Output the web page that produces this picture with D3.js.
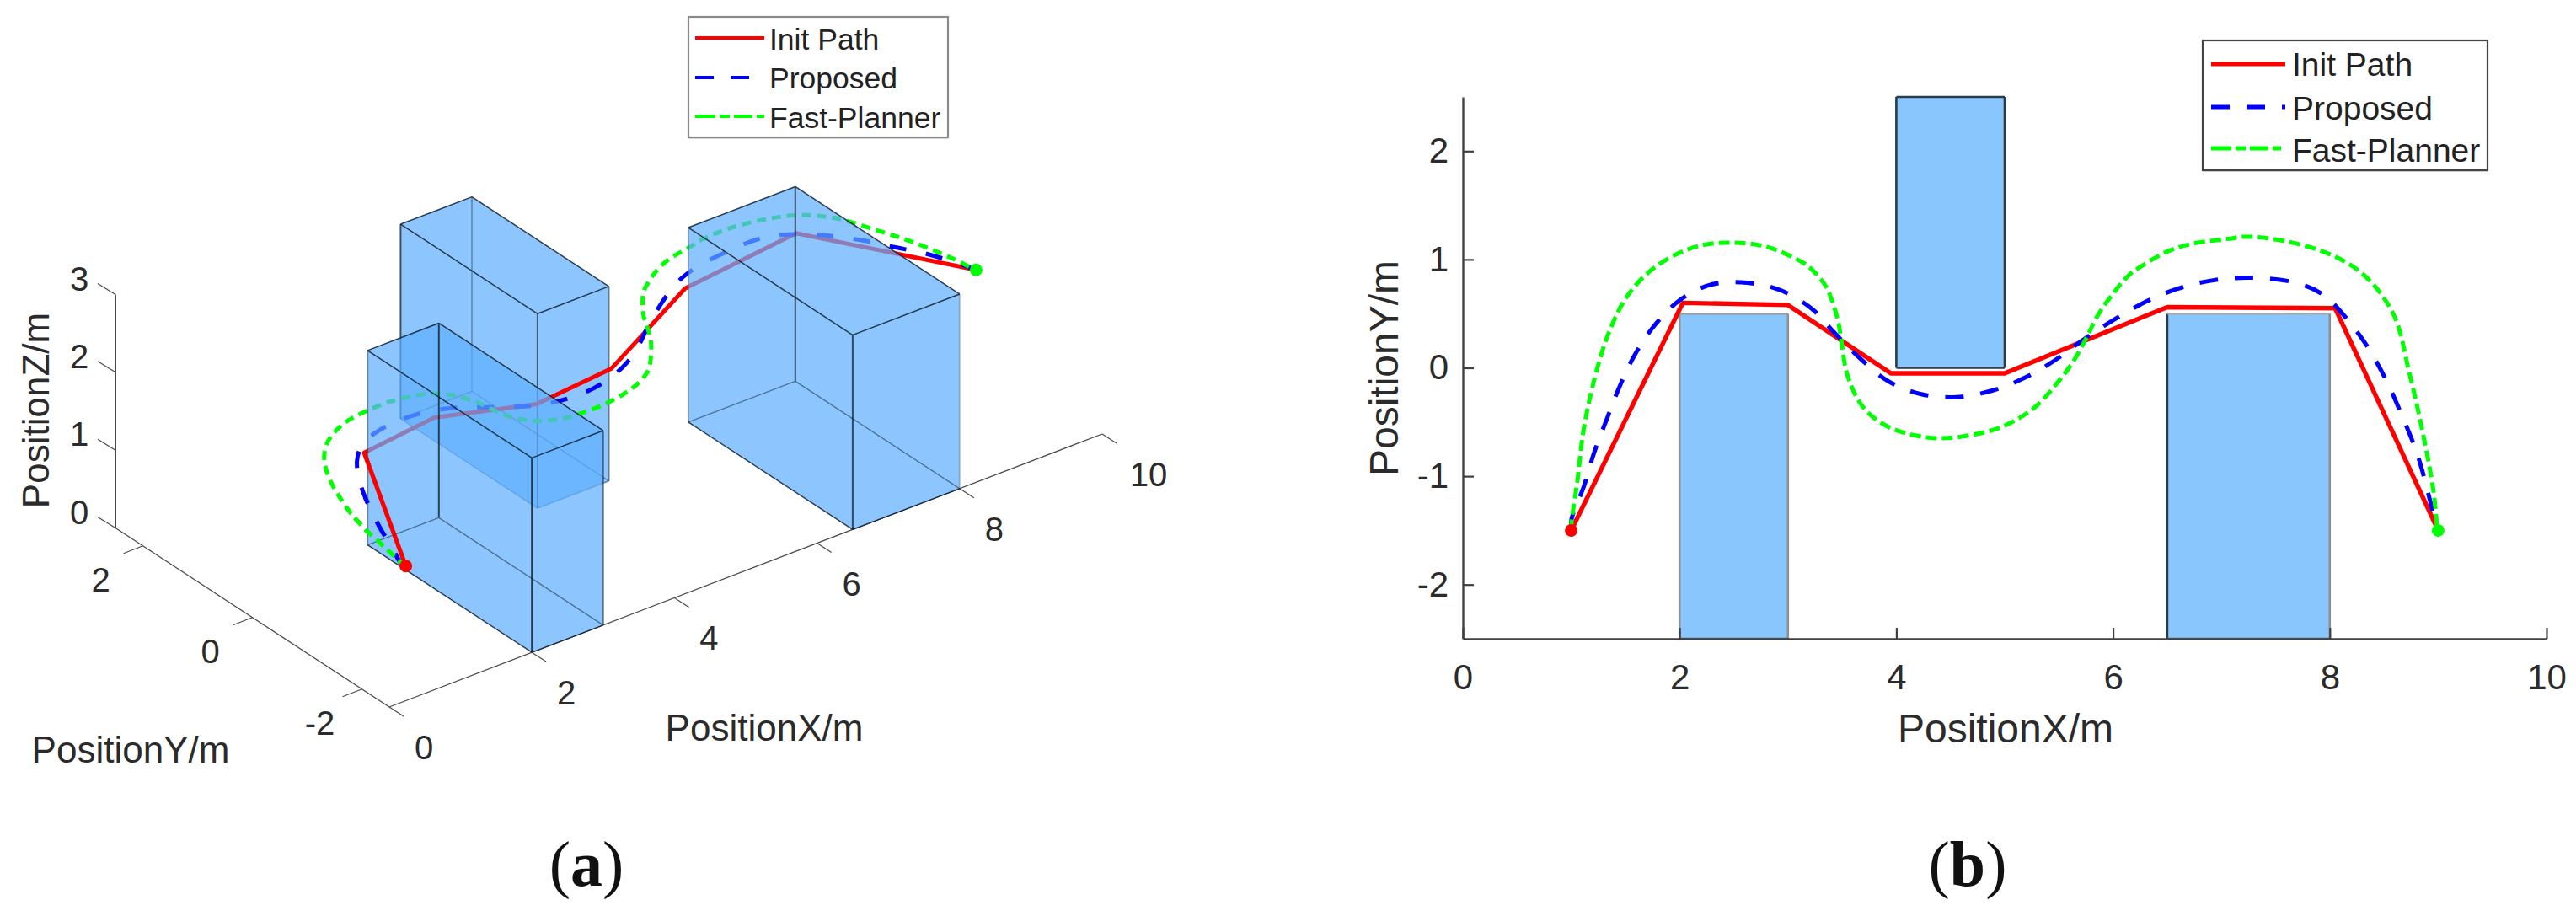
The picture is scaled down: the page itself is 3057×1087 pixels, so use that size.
<!DOCTYPE html>
<html>
<head>
<meta charset="utf-8">
<script src="https://cdn.jsdelivr.net/npm/d3@7"></script>
<style>
html,body{margin:0;padding:0;background:#fff}
svg{display:block}
text{font-family:"Liberation Sans",Arial,sans-serif;fill:#2b2b2b}
</style>
</head>
<body>
<svg id="chart" width="3057" height="1087"></svg>
<script>
// ---------- data ----------
const seriesNames = ["Init Path", "Proposed", "Fast-Planner"];
const seriesColors = ["#ff0000", "#0000ff", "#00ff00"];
const xTicks = [0, 2, 4, 6, 8, 10];
const yTicksA = [-2, 0, 2];
const yTicksB = [-2, -1, 0, 1, 2];
const zTicks = [0, 1, 2, 3];

// obstacles: [x0, x1, y0, y1, z0, z1]
const obstacleLow = [2, 3, -2.5, 0.5, 0, 2.5];
const obstacleHigh = [4, 5, 0, 2.5, 0, 2.5];
const obstacleFar = [6.5, 8, -2.5, 0.5, 0, 2.5];

const initX = [1, 2.03, 3, 3.95, 5, 6.5, 8.05, 9];
const initY = [-1.5, 0.6, 0.58, -0.05, -0.05, 0.56, 0.55, -1.5];
const initZ = [1, 1.13, 1.25, 1.38, 1.47, 1.69, 1.86, 2];

const propX = [1, 1.003, 1.12, 1.21, 1.327, 1.444, 1.586, 1.768, 2.001, 2.286, 2.623, 2.934, 3.219, 3.427, 3.673, 3.932, 4.23, 4.554, 4.878, 5.176, 5.461, 5.746, 6.006, 6.291, 6.589, 6.913, 7.265, 7.67, 7.93, 8.147, 8.33, 8.515, 8.66, 8.81, 8.956, 8.99];
const propY = [-1.5, -1.396, -1.085, -0.787, -0.477, -0.179, 0.119, 0.391, 0.624, 0.767, 0.785, 0.715, 0.546, 0.326, 0.08, -0.127, -0.243, -0.27, -0.212, -0.096, 0.068, 0.274, 0.443, 0.604, 0.728, 0.806, 0.832, 0.789, 0.681, 0.465, 0.222, -0.103, -0.427, -0.805, -1.346, -1.48];
const propZ = [1, 1, 1.02, 1.05, 1.08, 1.12, 1.18, 1.21, 1.2, 1.2, 1.235, 1.27, 1.31, 1.35, 1.38, 1.41, 1.44, 1.46, 1.48, 1.5, 1.53, 1.57, 1.62, 1.67, 1.72, 1.74, 1.755, 1.8, 1.82, 1.85, 1.875, 1.9, 1.92, 1.96, 2, 2];

const fastX = [1, 1.003, 1.055, 1.107, 1.172, 1.25, 1.353, 1.509, 1.716, 1.975, 2.234, 2.494, 2.805, 3.14, 3.219, 3.349, 3.414, 3.466, 3.491, 3.544, 3.647, 3.764, 3.945, 4.178, 4.411, 4.722, 4.982, 5.267, 5.474, 5.63, 5.76, 5.85, 5.993, 6.148, 6.278, 6.511, 6.744, 7.055, 7.228, 7.6, 8.037, 8.33, 8.59, 8.735, 8.845, 8.956, 8.99];
const fastY = [-1.5, -1.42, -1.06, -0.62, -0.28, 0.03, 0.34, 0.65, 0.883, 1.05, 1.137, 1.155, 1.117, 0.97, 0.909, 0.754, 0.598, 0.417, 0.262, -0.05, -0.295, -0.437, -0.554, -0.624, -0.65, -0.614, -0.541, -0.373, -0.153, 0.054, 0.287, 0.469, 0.676, 0.857, 0.948, 1.078, 1.148, 1.189, 1.21, 1.167, 1.032, 0.843, 0.49, -0.05, -0.535, -1.13, -1.48];
const fastZ = [1, 1, 1.01, 1.03, 1.05, 1.09, 1.13, 1.18, 1.21, 1.22, 1.235, 1.25, 1.28, 1.32, 1.33, 1.34, 1.35, 1.36, 1.36, 1.37, 1.39, 1.41, 1.43, 1.46, 1.48, 1.49, 1.5, 1.5, 1.53, 1.56, 1.58, 1.6, 1.62, 1.64, 1.66, 1.69, 1.72, 1.74, 1.76, 1.8, 1.83, 1.86, 1.885, 1.93, 1.97, 1.99, 2];

// ---------- helpers ----------
const svg = d3.select("#chart");
const zip3 = (xs, ys, zs) => xs.map((x, i) => ({x, y: ys[i], z: zs[i]}));
const initPts = zip3(initX, initY, initZ);
const propPts = zip3(propX, propY, propZ);
const fastPts = zip3(fastX, fastY, fastZ);
const seriesPts = [initPts, propPts, fastPts];
const seriesCurve = [d3.curveLinear, d3.curveCatmullRom.alpha(0.5), d3.curveCatmullRom.alpha(0.5)];
const dashA = [null, "20 24", "11 7"];
const dashB = [null, "22 20", "13 6"];
const dashLegend = [null, "22 20 22 20 5", "24 5 12 5 22 5 10"];

function legend(g, x, y, w, h, lineX0, lineX1, textX, rows, baselines, fs, lw, edge) {
  g.append("rect").attr("x", x).attr("y", y + 2).attr("width", w).attr("height", h)
    .attr("fill", "#ddd");
  g.append("rect").attr("x", x).attr("y", y).attr("width", w).attr("height", h)
    .attr("fill", "#fff").attr("stroke", edge).attr("stroke-width", 2.2);
  seriesNames.forEach((n, i) => {
    g.append("line").attr("x1", lineX0).attr("x2", lineX1).attr("y1", rows[i]).attr("y2", rows[i])
      .attr("stroke", seriesColors[i]).attr("stroke-width", lw)
      .attr("stroke-dasharray", dashLegend[i]);
    g.append("text").attr("x", textX).attr("y", baselines[i]).attr("font-size", fs).style("fill", "#222").text(n);
  });
}

// ---------- panel (a): 3-D oblique view ----------
const gA = svg.append("g");
const xPx = d3.scaleLinear().domain([0, 10]).range([462, 1308]);
const xPy = d3.scaleLinear().domain([0, 10]).range([839, 515]);
const yPx = d3.scaleLinear().domain([-2.5, 2.5]).range([0, -325]);
const yPy = d3.scaleLinear().domain([-2.5, 2.5]).range([0, -212.5]);
const zPy = d3.scaleLinear().domain([0, 3]).range([0, -277]);
const proj = (x, y, z) => [xPx(x) + yPx(y), xPy(x) + yPy(y) + zPy(z)];
const line3 = d3.line().x(d => proj(d.x, d.y, d.z)[0]).y(d => proj(d.x, d.y, d.z)[1]);
const polyPath = pts => "M" + pts.map(p => p.join(",")).join("L") + "Z";

function boxFill(g, b) {
  const [x0, x1, y0, y1, z0, z1] = b;
  g.append("path").attr("d", polyPath([
    proj(x0, y0, z0), proj(x1, y0, z0), proj(x1, y0, z1),
    proj(x1, y1, z1), proj(x0, y1, z1), proj(x0, y1, z0)
  ])).attr("fill", "rgb(94,174,255)").attr("fill-opacity", 0.71);
}
function seg(g, a, b, op, w) {
  const p = proj(...a), q = proj(...b);
  g.append("line").attr("x1", p[0]).attr("y1", p[1]).attr("x2", q[0]).attr("y2", q[1])
    .attr("stroke", "#10202c").attr("stroke-opacity", op).attr("stroke-width", w);
}
function boxEdges(g, b, vOps, bottomOps) {
  const [x0, x1, y0, y1, z0, z1] = b;
  const top = [[x0, y0], [x1, y0], [x1, y1], [x0, y1]];
  top.forEach((c, i) => {
    const n = top[(i + 1) % 4];
    seg(g, [c[0], c[1], z1], [n[0], n[1], z1], 0.85, 1.5);
    seg(g, [c[0], c[1], z0], [n[0], n[1], z0], bottomOps[i], 1.4);
    seg(g, [c[0], c[1], z0], [c[0], c[1], z1], vOps[i], 2);
  });
}
function paths3(g, ptsFor) {
  seriesPts.forEach((_, i) => {
    g.append("path").datum(ptsFor(i)).attr("d", line3.curve(seriesCurve[i])).attr("fill", "none")
      .attr("stroke", seriesColors[i]).attr("stroke-width", i === 0 ? 5 : 5)
      .attr("stroke-linejoin", "round")
      .attr("stroke-dasharray", dashA[i]);
  });
}

// 3-D axes
const axisA = gA.append("g").attr("stroke", "#4a4a4a").attr("fill", "none");
function axLine(a, b, w) {
  axisA.append("line").attr("x1", a[0]).attr("y1", a[1]).attr("x2", b[0]).attr("y2", b[1]).attr("stroke-width", w);
}
axLine(proj(0, -2.5, 0), proj(10, -2.5, 0), 1.3);
axLine(proj(0, -2.5, 0), proj(0, 2.5, 0), 1.3);
axLine(proj(0, 2.5, 0), proj(0, 2.5, 3), 2);
xTicks.forEach(v => {
  const p = proj(v, -2.5, 0);
  axLine(p, [p[0] + 17, p[1] + 11], 1.2);
  gA.append("text").attr("x", p[0] + (v === 10 ? 55 : 41)).attr("y", p[1] + 48 + 14).attr("text-anchor", "middle")
    .attr("font-size", 40).text(v);
});
yTicksA.forEach(v => {
  const p = proj(0, v, 0);
  axLine(p, [p[0] - 23, p[1] + 9], 1.2);
  gA.append("text").attr("x", p[0] - 50).attr("y", p[1] + 40 + 14).attr("text-anchor", "middle")
    .attr("font-size", 40).text(v);
});
zTicks.forEach(v => {
  const p = proj(0, 2.5, v);
  axLine(p, [p[0] - 21, p[1] - 13], 1.2);
  gA.append("text").attr("x", p[0] - 43).attr("y", p[1] - 19 + 14).attr("text-anchor", "middle")
    .attr("font-size", 40).text(v);
});
gA.append("text").attr("x", 907).attr("y", 879).attr("text-anchor", "middle").attr("font-size", 44).text("PositionX/m");
gA.append("text").attr("x", 155).attr("y", 905).attr("text-anchor", "middle").attr("font-size", 44).text("PositionY/m");
gA.append("text").attr("transform", "translate(58,487) rotate(-90)").attr("text-anchor", "middle").attr("font-size", 44).text("PositionZ/m");

// boxes and paths, layered as in the picture
boxFill(gA, obstacleHigh);
boxEdges(gA, obstacleHigh, [0.65, 0.55, 0.3, 0.75], [0.45, 0.45, 0.45, 0.45]);
paths3(gA, i => seriesPts[i]);
boxFill(gA, obstacleLow);
boxFill(gA, obstacleFar);
boxEdges(gA, obstacleLow, [0.85, 0.55, 0.8, 0.45], [0.85, 0.5, 0.5, 0.85]);
boxEdges(gA, obstacleFar, [0.75, 0.25, 0.7, 0.25], [0.85, 0.5, 0.5, 0.85]);
// the starting stretch lies in front of the near box
const frontCount = [2, 6, 5];
paths3(gA, i => seriesPts[i].slice(0, frontCount[i]));
gA.append("circle").attr("cx", proj(initX[0], initY[0], initZ[0])[0]).attr("cy", proj(initX[0], initY[0], initZ[0])[1]).attr("r", 7.5).attr("fill", "#ff0000");
{
  const last = fastPts[fastPts.length - 1];
  gA.append("circle").attr("cx", proj(9, -1.5, 2)[0]).attr("cy", proj(9, -1.5, 2)[1]).attr("r", 7.5).attr("fill", "#00ff00");
}
legend(gA, 817, 20, 308, 143, 825, 907, 913, [45, 92, 138], [59, 105, 152], 35.5, 4, "#8a8a8a");
gA.append("text").attr("x", 696).attr("y", 1051).attr("text-anchor", "middle").attr("font-size", 76)
  .style("font-family", "'Liberation Serif',serif").style("fill", "#111")
  .html('(<tspan font-weight="bold">a</tspan>)');

// ---------- panel (b): top view ----------
const gB = svg.append("g");
const xB = d3.scaleLinear().domain([0, 10]).range([1736, 3022]);
const yB = d3.scaleLinear().domain([-2.5, 2.5]).range([758, 115]);
const lineB = d3.line().x(d => xB(d.x)).y(d => yB(d.y));

const rectEdges = [
  {b: obstacleLow, left: "#8f8f8f", top: "#9a9a9a", right: "#8f8f8f", bottom: "#5a6a78"},
  {b: obstacleHigh, left: "#2a3a48", top: "#2a3a48", right: "#2a3a48", bottom: "#2a3a48"},
  {b: obstacleFar, left: "#2a3a48", top: "#a8a8a8", right: "#8f8f8f", bottom: "#5a6a78"}
];
rectEdges.forEach(r => {
  const [x0, x1, y0, y1] = r.b;
  gB.append("rect").attr("x", xB(x0)).attr("y", yB(y1)).attr("width", xB(x1) - xB(x0)).attr("height", yB(y0) - yB(y1))
    .attr("fill", "#8ac6fe");
  const e = (a, b, c, d, col) => gB.append("line").attr("x1", xB(a)).attr("y1", yB(b)).attr("x2", xB(c)).attr("y2", yB(d))
    .attr("stroke", col).attr("stroke-width", 2.6);
  e(x0, y0, x0, y1, r.left);
  e(x1, y0, x1, y1, r.right);
  e(x0, y1, x1, y1, r.top);
  e(x0, y0, x1, y0, r.bottom);
});

const axB = d3.axisBottom(xB).tickValues(xTicks).tickSize(-13).tickSizeOuter(0).tickFormat(d => String(d));
const axL = d3.axisLeft(yB).tickValues(yTicksB).tickSize(-13).tickSizeOuter(0).tickFormat(d => String(d));
const gx = gB.append("g").attr("transform", "translate(0,758)").call(axB);
const gy = gB.append("g").attr("transform", "translate(1736,0)").call(axL);
[gx, gy].forEach(a => {
  a.selectAll("path").attr("stroke", "#404040").attr("stroke-width", 2.4);
  a.selectAll("line").attr("stroke", "#404040").attr("stroke-width", 2.2);
  a.selectAll("text").attr("font-size", 42).style("font-family", "'Liberation Sans',Arial,sans-serif").style("fill", "#2b2b2b");
});
gx.selectAll("text").attr("dy", null).attr("y", 60);
gy.selectAll("text").attr("x", -17);
gB.append("text").attr("x", 2380).attr("y", 881).attr("text-anchor", "middle").attr("font-size", 48).text("PositionX/m");
gB.append("text").attr("transform", "translate(1659,437) rotate(-90)").attr("text-anchor", "middle").attr("font-size", 48).text("PositionY/m");

seriesPts.forEach((pts, i) => {
  gB.append("path").datum(pts).attr("d", lineB.curve(seriesCurve[i])).attr("fill", "none")
    .attr("stroke", seriesColors[i]).attr("stroke-width", i === 0 ? 5.4 : 5)
    .attr("stroke-linejoin", "round").attr("stroke-dasharray", dashB[i]);
});
gB.append("circle").attr("cx", xB(1)).attr("cy", yB(-1.5)).attr("r", 7.5).attr("fill", "#ff0000");
gB.append("circle").attr("cx", xB(9)).attr("cy", yB(-1.5)).attr("r", 7.5).attr("fill", "#00ff00");
legend(gB, 2614, 48, 338, 154, 2624, 2712, 2720, [76, 127, 176], [90, 142, 192], 39, 5, "#444");
gB.append("text").attr("x", 2335).attr("y", 1051).attr("text-anchor", "middle").attr("font-size", 76)
  .style("font-family", "'Liberation Serif',serif").style("fill", "#111")
  .html('(<tspan font-weight="bold">b</tspan>)');
</script>
</body>
</html>
